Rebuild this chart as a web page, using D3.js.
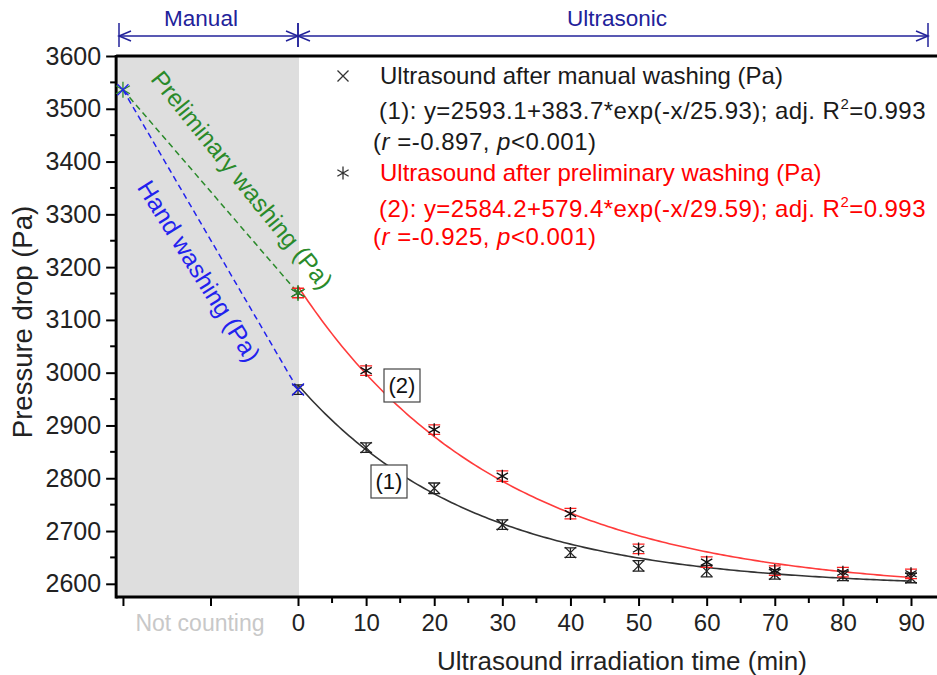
<!DOCTYPE html>
<html>
<head>
<meta charset="utf-8">
<script src="https://cdn.jsdelivr.net/npm/d3@7"></script>
<style>
  body { margin: 0; background: #fff; }
  svg { display: block; font-family: "Liberation Sans", Arial, sans-serif; }
</style>
</head>
<body>
<svg width="937" height="675"></svg>
<script>
const timeMin = [0, 10, 20, 30, 40, 50, 60, 70, 80, 90];
const manualVals = [2968, 2858, 2781, 2712, 2659, 2634, 2624, 2618, 2615, 2611];
const prelimVals = [3151, 3004, 2892, 2804, 2733, 2666, 2641, 2625, 2622, 2619];
const manualErr = [9, 9, 10, 9, 9, 10, 11, 9, 9, 9];
const prelimErr = [9, 9, 9, 10, 10, 9, 10, 9, 9, 9];
// starting point before any washing, drawn on the "not counting" part of the axis
const preX = -25.7;
const preVal = 3536;
// fit parameters y = a + b*exp(-x/t)
const fitManual = [2593.1, 383.7, 25.93];
const fitPrelim = [2584.2, 579.4, 29.59];
const yTicks = [2600, 2700, 2800, 2900, 3000, 3100, 3200, 3300, 3400, 3500, 3600];
const xTicks = [0, 10, 20, 30, 40, 50, 60, 70, 80, 90];

const svg = d3.select("svg");
const x = d3.scaleLinear().domain([0, 90]).range([298, 911]);
const y = d3.scaleLinear().domain([2575, 3600]).range([597, 56]);
const left = x(-26.7), right = 937;

// gray "manual" band
svg.append("rect")
  .attr("x", left + 2).attr("y", y(3600) + 1)
  .attr("width", x(0) - left - 1).attr("height", y(2575) - y(3600) - 2)
  .attr("fill", "#dedede");

// header with arrows
const navy = "#22229a";
const hy = 36;
function bracket(x0, x1) {
  const g = svg.append("g").attr("stroke", navy).attr("stroke-width", 1.5).attr("fill", "none");
  g.append("line").attr("x1", x0).attr("x2", x1).attr("y1", hy).attr("y2", hy);
  g.append("path").attr("d", `M${x0 + 12},${hy - 5}L${x0},${hy}L${x0 + 12},${hy + 5}`);
  g.append("path").attr("d", `M${x1 - 12},${hy - 5}L${x1},${hy}L${x1 - 12},${hy + 5}`);
  [x0, x1].forEach(v => g.append("line").attr("x1", v).attr("x2", v).attr("y1", hy - 13).attr("y2", hy + 11));
}
bracket(119, x(0));
bracket(x(0), 928);
svg.append("text").attr("x", 201).attr("y", 26).attr("text-anchor", "middle")
  .attr("font-size", 22.5).attr("fill", navy).text("Manual");
svg.append("text").attr("x", 617).attr("y", 26).attr("text-anchor", "middle")
  .attr("font-size", 22.5).attr("fill", navy).text("Ultrasonic");

// axes
const yAxis = d3.axisLeft(y).tickValues(yTicks).tickFormat(d3.format("d")).tickSize(10).tickPadding(5);
const gy = svg.append("g").attr("transform", `translate(${left},0)`).call(yAxis);
gy.selectAll(".tick text").attr("font-size", 25).attr("fill", "#222");
gy.append("g").selectAll("line").data(d3.range(2650, 3600, 100)).join("line")
  .attr("x1", -6).attr("x2", 0).attr("y1", d => y(d)).attr("y2", d => y(d))
  .attr("stroke", "#000").attr("stroke-width", 2);

const xAxis = d3.axisBottom(x).tickValues([preX, preX / 2].concat(xTicks))
  .tickFormat(d => d < 0 ? "" : d).tickSize(9).tickPadding(8);
const gx = svg.append("g").attr("transform", `translate(0,${y(2575)})`).call(xAxis);
gx.selectAll(".tick text").attr("font-size", 24).attr("fill", "#222");
gx.append("g").selectAll("line").data(d3.range(5, 90, 10)).join("line")
  .attr("x1", d => x(d)).attr("x2", d => x(d)).attr("y1", 0).attr("y2", 6)
  .attr("stroke", "#000").attr("stroke-width", 2);

[gx, gy].forEach(g => {
  g.select(".domain").remove();
  g.selectAll(".tick line").attr("stroke-width", 2);
});
svg.append("line").attr("x1", left).attr("x2", right).attr("y1", y(2575)).attr("y2", y(2575))
  .attr("stroke", "#000").attr("stroke-width", 3);
svg.append("line").attr("x1", left).attr("x2", left).attr("y1", y(3600) - 1).attr("y2", y(2575) + 1.5)
  .attr("stroke", "#000").attr("stroke-width", 3);
svg.append("line").attr("x1", left).attr("x2", right).attr("y1", y(3600)).attr("y2", y(3600))
  .attr("stroke", "#000").attr("stroke-width", 3);

svg.append("text").attr("x", 200).attr("y", 631).attr("text-anchor", "middle")
  .attr("font-size", 23).attr("fill", "#c8c8c8").text("Not counting");
svg.append("text").attr("x", 622).attr("y", 670).attr("text-anchor", "middle")
  .attr("font-size", 26).attr("fill", "#222").text("Ultrasound irradiation time (min)");
svg.append("text").attr("transform", "translate(32,322) rotate(-90)").attr("text-anchor", "middle")
  .attr("font-size", 27.5).attr("fill", "#222").text("Pressure drop (Pa)");

// dashed manual-stage lines
const green = "#2a8a2a", blue = "#2222ee";
svg.append("line").attr("x1", x(preX)).attr("y1", y(preVal)).attr("x2", x(0)).attr("y2", y(prelimVals[0]))
  .attr("stroke", green).attr("stroke-width", 1.5).attr("stroke-dasharray", "6,4");
svg.append("line").attr("x1", x(preX)).attr("y1", y(preVal)).attr("x2", x(0)).attr("y2", y(manualVals[0]))
  .attr("stroke", blue).attr("stroke-width", 1.5).attr("stroke-dasharray", "6,4");

// fit curves
const fitX = d3.range(0, 90.01, 0.5);
const line = d3.line().x(d => x(d[0])).y(d => y(d[1]));
function fitCurve(p, color) {
  svg.append("path")
    .attr("d", line(fitX.map(t => [t, p[0] + p[1] * Math.exp(-t / p[2])])))
    .attr("fill", "none").attr("stroke", color).attr("stroke-width", 1.6);
}
fitCurve(fitPrelim, "#ff3b3b");
fitCurve(fitManual, "#333");

// markers
function cross(g, cx, cy, r, color) {
  g.append("path").attr("d", `M${cx - r},${cy - r}L${cx + r},${cy + r}M${cx - r},${cy + r}L${cx + r},${cy - r}`)
    .attr("stroke", color).attr("stroke-width", 1.3).attr("fill", "none");
}
function star(g, cx, cy, r, color) {
  const a = r * Math.cos(Math.PI / 6), b = r * Math.sin(Math.PI / 6);
  g.append("path").attr("d", `M${cx},${cy - r}L${cx},${cy + r}M${cx - a},${cy - b}L${cx + a},${cy + b}M${cx - a},${cy + b}L${cx + a},${cy - b}`)
    .attr("stroke", color).attr("stroke-width", 1.3).attr("fill", "none");
}
function errBar(g, cx, v, e, color) {
  const y0 = y(v - e), y1 = y(v + e);
  g.append("path").attr("d", `M${cx - 6},${y1}H${cx + 6}M${cx},${y1}V${y0}M${cx - 6},${y0}H${cx + 6}`)
    .attr("stroke", color).attr("stroke-width", 1.3).attr("fill", "none");
}
const gm = svg.append("g");
timeMin.forEach((t, i) => {
  errBar(gm, x(t), manualVals[i], manualErr[i], "#222");
  cross(gm, x(t), y(manualVals[i]), 5.5, "#222");
});
timeMin.forEach((t, i) => {
  errBar(gm, x(t), prelimVals[i], prelimErr[i], "#ff2020");
  star(gm, x(t), y(prelimVals[i]), 6.5, "#111");
});
// manual-stage points
star(gm, x(preX), y(preVal), 8, green);
cross(gm, x(preX), y(preVal), 5.5, blue);
star(gm, x(0), y(prelimVals[0]), 8, green);
cross(gm, x(0), y(manualVals[0]), 6, blue);

// rotated labels
svg.append("text").attr("transform", "translate(242,180) rotate(51)")
  .attr("text-anchor", "middle").attr("dominant-baseline", "central")
  .attr("font-size", 24.5).attr("fill", green).text("Preliminary washing (Pa)");
svg.append("text").attr("transform", "translate(199,271) rotate(58)")
  .attr("text-anchor", "middle").attr("dominant-baseline", "central")
  .attr("font-size", 24.5).attr("fill", blue).text("Hand washing (Pa)");

// curve tags
function tag(cx, cy, label) {
  svg.append("rect").attr("x", cx - 18).attr("y", cy - 16).attr("width", 36).attr("height", 33)
    .attr("fill", "#fff").attr("stroke", "#444").attr("stroke-width", 1.2);
  svg.append("text").attr("x", cx).attr("y", cy + 8).attr("text-anchor", "middle")
    .attr("font-size", 22).attr("fill", "#111").text(label);
}
tag(402, 385, "(2)");
tag(389, 481, "(1)");

// legend
const lg = svg.append("g").attr("font-size", 24);
cross(lg, 343, 76, 5.5, "#333");
star(lg, 343, 173, 6.5, "#333");
function legendLine(xp, yp, color, parts, spacing) {
  const t = lg.append("text").attr("x", xp).attr("y", yp).attr("fill", color)
    .attr("letter-spacing", spacing || 0);
  parts.forEach(p => {
    const s = t.append("tspan").text(p.t);
    if (p.i) s.attr("font-style", "italic");
    if (p.sup) s.attr("font-size", 15).attr("dy", -10);
    if (p.down) s.attr("dy", 10);
  });
}
const dark = "#1a1a1a", red = "#ff0000";
legendLine(380, 84, dark, [{ t: "Ultrasound after manual washing (Pa)" }]);
legendLine(379, 119, dark, [{ t: "(1): y=2593.1+383.7*exp(-x/25.93); adj. R" }, { t: "2", sup: true }, { t: "=0.993", down: true }], 0.45);
legendLine(373, 150, dark, [{ t: "(" }, { t: "r", i: true }, { t: " =-0.897, " }, { t: "p", i: true }, { t: "<0.001)" }], 0.5);
legendLine(380, 181, red, [{ t: "Ultrasound after preliminary washing (Pa)" }]);
legendLine(379, 217, red, [{ t: "(2): y=2584.2+579.4*exp(-x/29.59); adj. R" }, { t: "2", sup: true }, { t: "=0.993", down: true }], 0.45);
legendLine(373, 245, red, [{ t: "(" }, { t: "r", i: true }, { t: " =-0.925, " }, { t: "p", i: true }, { t: "<0.001)" }], 0.5);
</script>
</body>
</html>
